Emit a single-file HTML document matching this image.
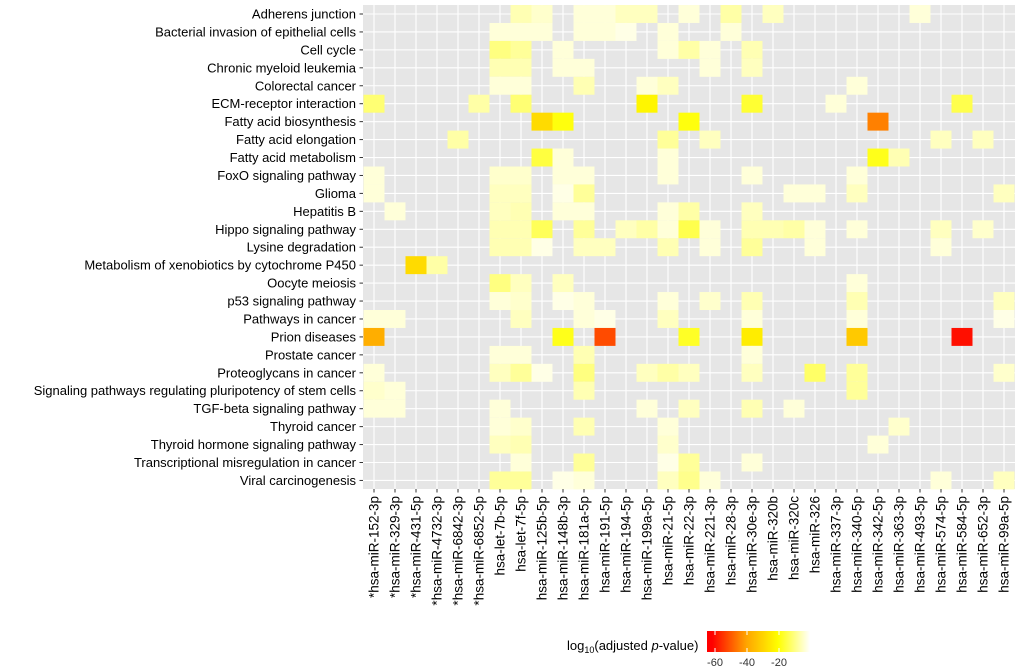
<!DOCTYPE html>
<html><head><meta charset="utf-8"><style>
html,body{margin:0;padding:0;background:#fff;}
svg{display:block;font-family:"Liberation Sans",Arial,sans-serif;}
</style></head><body>
<svg id="chart" width="1020" height="670" viewBox="0 0 1020 670" xmlns="http://www.w3.org/2000/svg">
<defs>
<linearGradient id="lg" x1="0" x2="1" y1="0" y2="0">
<stop offset="0" stop-color="#ff0000"/>
<stop offset="0.05" stop-color="#ff0000"/>
<stop offset="0.385" stop-color="#ffa500"/>
<stop offset="0.69" stop-color="#ffff00"/>
<stop offset="1" stop-color="#ffffff"/>
</linearGradient>
</defs>
<rect x="363" y="5" width="652" height="484" fill="#e6e6e6"/>
<g id="grid"></g>
<g id="cells"></g>
<g id="ylabels"></g>
<g id="xlabels"></g>
<g>
<text x="567" y="650" font-size="13" fill="#000">log<tspan font-size="9" dy="3">10</tspan><tspan dy="-3">(adjusted </tspan><tspan font-style="italic">p</tspan>-value)</text>
<rect x="707" y="631" width="103" height="21" fill="url(#lg)"/>
<g id="legticks"></g>
</g>
</svg>
<script>
const pathways = ["Adherens junction","Bacterial invasion of epithelial cells","Cell cycle","Chronic myeloid leukemia","Colorectal cancer","ECM-receptor interaction","Fatty acid biosynthesis","Fatty acid elongation","Fatty acid metabolism","FoxO signaling pathway","Glioma","Hepatitis B","Hippo signaling pathway","Lysine degradation","Metabolism of xenobiotics by cytochrome P450","Oocyte meiosis","p53 signaling pathway","Pathways in cancer","Prion diseases","Prostate cancer","Proteoglycans in cancer","Signaling pathways regulating pluripotency of stem cells","TGF-beta signaling pathway","Thyroid cancer","Thyroid hormone signaling pathway","Transcriptional misregulation in cancer","Viral carcinogenesis"];
const mirnas = ["*hsa-miR-152-3p","*hsa-miR-329-3p","*hsa-miR-431-5p","*hsa-miR-4732-3p","*hsa-miR-6842-3p","*hsa-miR-6852-5p","hsa-let-7b-5p","hsa-let-7f-5p","hsa-miR-125b-5p","hsa-miR-148b-3p","hsa-miR-181a-5p","hsa-miR-191-5p","hsa-miR-194-5p","hsa-miR-199a-5p","hsa-miR-21-5p","hsa-miR-22-3p","hsa-miR-221-3p","hsa-miR-28-3p","hsa-miR-30e-3p","hsa-miR-320b","hsa-miR-320c","hsa-miR-326","hsa-miR-337-3p","hsa-miR-340-5p","hsa-miR-342-5p","hsa-miR-363-3p","hsa-miR-493-5p","hsa-miR-574-5p","hsa-miR-584-5p","hsa-miR-652-3p","hsa-miR-99a-5p"];
// cells: [rowIndex, colIndex, log10 adjusted p-value]
const cellRow = [0,0,0,0,0,0,0,0,0,0, 1,1,1,1,1,1,1,1, 2,2,2,2,2,2,2, 3,3,3,3,3,3, 4,4,4,4,4,4, 5,5,5,5,5,5,5, 6,6,6,6, 7,7,7,7,7, 8,8,8,8,8, 9,9,9,9,9,9,9,9, 10,10,10,10,10,10,10,10,10, 11,11,11,11,11,11,11,11, 12,12,12,12,12,12,12,12,12,12,12,12,12,12,12,12, 13,13,13,13,13,13,13,13,13,13, 14,14, 15,15,15,15, 16,16,16,16,16,16,16,16,16, 17,17,17,17,17,17,17,17,17, 18,18,18,18,18,18,18, 19,19,19,19, 20,20,20,20,20,20,20,20,20,20,20,20, 21,21,21,21, 22,22,22,22,22,22,22, 23,23,23,23,23, 24,24,24,24, 25,25,25,25,25, 26,26,26,26,26,26,26,26,26];
const cellCol = [7,8,10,11,12,13,15,17,19,26, 6,7,8,10,11,12,14,17, 6,7,9,14,15,16,18, 6,7,9,10,16,18, 6,7,10,13,14,23, 0,5,7,13,18,22,28, 8,9,15,24, 4,14,16,27,29, 8,9,14,24,25, 0,6,7,9,10,14,18,23, 0,6,7,9,10,20,21,23,30, 1,6,7,9,10,14,15,18, 6,7,8,10,12,13,14,15,16,18,19,20,21,23,27,29, 6,7,8,10,11,14,16,18,21,27, 2,3, 6,7,9,23, 6,7,9,10,14,16,18,23,30, 0,1,7,10,11,14,18,23,30, 0,9,11,15,18,23,28, 6,7,10,18, 0,6,7,8,10,13,14,15,18,21,23,30, 0,1,10,23, 0,1,6,13,15,18,20, 6,7,10,14,25, 6,7,14,24, 7,10,14,15,18, 6,7,9,10,14,15,16,27,30];
const cellVal = [-6,-4,-3,-3,-5,-5,-3,-7,-5,-3, -3,-3,-3,-3,-3,-2,-3,-3, -10,-8,-3,-3,-7,-3,-6, -6,-6,-3,-3,-3,-5, -3,-3,-6,-3,-5,-3, -11,-7,-11,-22,-16,-3,-14, -28,-19,-19,-45, -7,-8,-5,-5,-5, -15,-3,-3,-18,-6, -3,-4,-4,-3,-3,-3,-3,-3, -3,-5,-5,-2,-8,-3,-3,-5,-5, -3,-5,-6,-3,-3,-3,-7,-5, -6,-6,-13,-8,-5,-7,-3,-14,-3,-6,-6,-7,-3,-3,-5,-4, -6,-6,-2,-5,-5,-6,-3,-8,-3,-3, -28,-7, -10,-5,-5,-3, -3,-4,-2,-3,-3,-4,-6,-6,-5, -3,-3,-5,-3,-2,-5,-3,-3,-2, -38,-18,-52,-17,-24,-32,-60, -3,-3,-6,-3, -3,-5,-8,-2,-10,-5,-7,-5,-5,-12,-8,-4, -4,-3,-6,-8, -3,-3,-3,-3,-5,-6,-3, -3,-4,-6,-3,-4, -5,-6,-4,-3, -3,-8,-2,-8,-3, -8,-8,-2,-3,-5,-9,-3,-3,-5];
const legendTicks = [-60,-40,-20];

const NS="http://www.w3.org/2000/svg";
const colX0=374, colW=21, rowY0=14, rowH=17.94;
function xPos(c){return colX0+c*colW;}
function yPos(r){return rowY0+r*rowH;}
function legX(v){return 811+v*1.6;}
function lerp(a,b,t){return Math.round(a+(b-a)*t);}
function color(v){
  const stops=[[0,[255,255,255]],[-20,[255,255,0]],[-40,[255,165,0]],[-62,[255,0,0]]];
  if(v<=-62) return "rgb(255,0,0)";
  for(let i=0;i<stops.length-1;i++){
    const [v0,c0]=stops[i],[v1,c1]=stops[i+1];
    if(v<=v0&&v>=v1){const t=(v-v0)/(v1-v0);return `rgb(${lerp(c0[0],c1[0],t)},${lerp(c0[1],c1[1],t)},${lerp(c0[2],c1[2],t)})`;}
  }
  return "#fff";
}
function mk(tag,attrs,parent){const e=document.createElementNS(NS,tag);for(const k in attrs)e.setAttribute(k,attrs[k]);parent.appendChild(e);return e;}
const grid=document.getElementById('grid');
mirnas.forEach((m,i)=>{
  const l=mk('line',{x1:xPos(i),x2:xPos(i),y1:5,y2:489,stroke:'#fff','stroke-width':1.1},grid);
  
  
});
pathways.forEach((p,i)=>{
  const l=mk('line',{x1:363,x2:1015,y1:yPos(i),y2:yPos(i),stroke:'#fff','stroke-width':1.1},grid);
  
  
});
const cells=document.getElementById('cells');
for(let k=0;k<cellVal.length;k++){
  const r=mk('rect',{x:xPos(cellCol[k])-colW/2,y:yPos(cellRow[k])-rowH/2,width:colW,height:rowH,fill:color(cellVal[k])},cells);
  
  
}
const yl=document.getElementById('ylabels');
pathways.forEach((p,i)=>{
  const t=mk('line',{x1:359.5,x2:363,y1:yPos(i),y2:yPos(i),stroke:'#333','stroke-width':1},yl);
  
  
  const tx=mk('text',{x:356,y:yPos(i)+4.5,'text-anchor':'end','font-size':13,fill:'#000'},yl);
  tx.textContent=p;
  
  
});
const xl=document.getElementById('xlabels');
mirnas.forEach((m,i)=>{
  const t=mk('line',{x1:xPos(i),x2:xPos(i),y1:489,y2:492.5,stroke:'#333','stroke-width':1},xl);
  
  
  const x=xPos(i)+4.5,y=496;
  const tx=mk('text',{x:x,y:y,'text-anchor':'end','font-size':13.5,fill:'#000',transform:`rotate(-90 ${x} ${y})`},xl);
  tx.textContent=m;
  
  
});
const lt=document.getElementById('legticks');
legendTicks.forEach(v=>{
  const a=mk('line',{x1:legX(v),x2:legX(v),y1:631,y2:635,stroke:'#fff','stroke-width':1},lt);
  
  
  const b=mk('line',{x1:legX(v),x2:legX(v),y1:648,y2:652,stroke:'#fff','stroke-width':1},lt);
  
  
  const tx=mk('text',{x:legX(v),y:666,'text-anchor':'middle','font-size':11,fill:'#333'},lt);
  tx.textContent=v;
  
  
});
</script>
</body></html>
